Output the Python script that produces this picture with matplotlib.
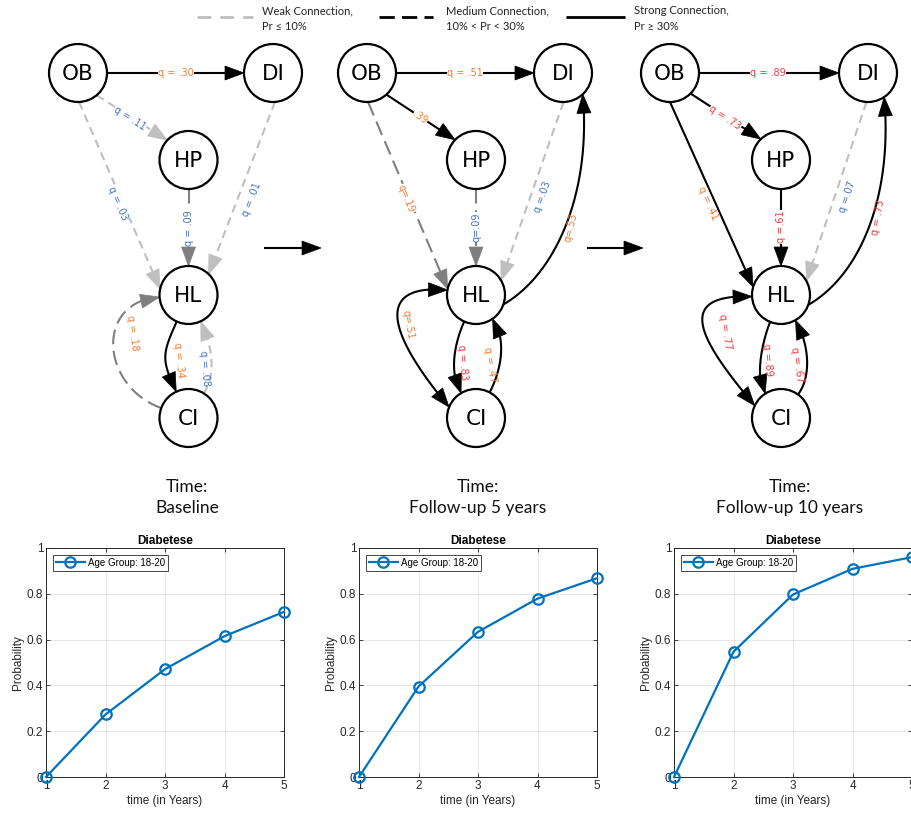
import numpy as np
import matplotlib
matplotlib.use('Agg')
import matplotlib.pyplot as plt
from matplotlib.patches import Circle, Polygon

# ---------------- data ----------------
node_names = ['OB', 'DI', 'HP', 'HL', 'CI']
time_titles = ['Time:\nBaseline', 'Time:\nFollow-up 5 years', 'Time:\nFollow-up 10 years']

# (source, target, q, label, strength)
edges_baseline = [
    ('OB', 'DI', 0.30, 'q = .30', 'strong'),
    ('OB', 'HP', 0.11, 'q = .11', 'weak'),
    ('OB', 'HL', 0.03, 'q = .03', 'weak'),
    ('HP', 'HL', 0.09, 'q = .09', 'medium'),
    ('DI', 'HL', 0.01, 'q = .01', 'weak'),
    ('HL', 'CI', 0.34, 'q = .34', 'strong'),
    ('CI', 'HL', 0.08, 'q = .08', 'weak'),
    ('CI', 'HL', 0.18, 'q = .18', 'medium'),
]
edges_5y = [
    ('OB', 'DI', 0.51, 'q = .51', 'strong'),
    ('OB', 'HP', 0.39, '.39', 'strong'),
    ('OB', 'HL', 0.19, 'q=.19', 'medium'),
    ('HP', 'HL', 0.09, 'q=.09', 'medium'),
    ('DI', 'HL', 0.03, 'q =.03', 'weak'),
    ('HL', 'DI', 0.53, 'q=.53', 'strong'),
    ('HL', 'CI', 0.51, 'q=.51', 'strong'),
    ('HL', 'CI', 0.83, 'q = .83', 'strong'),
    ('CI', 'HL', 0.47, 'q = .47', 'strong'),
]
edges_10y = [
    ('OB', 'DI', 0.89, 'q = .89', 'strong'),
    ('OB', 'HP', 0.73, 'q = .73', 'strong'),
    ('OB', 'HL', 0.41, 'q = .41', 'strong'),
    ('HP', 'HL', 0.61, 'q =.61', 'strong'),
    ('DI', 'HL', 0.07, 'q =.07', 'weak'),
    ('HL', 'DI', 0.73, 'q = .73', 'strong'),
    ('HL', 'CI', 0.77, 'q = .77', 'strong'),
    ('HL', 'CI', 0.89, 'q =.89', 'strong'),
    ('CI', 'HL', 0.67, 'q = .67', 'strong'),
]
legend_labels = ['Weak Connection,\nPr \u2264 10%', 'Medium Connection,\n10% < Pr < 30%',
                 'Strong Connection,\nPr \u2265 30%']

years = [1, 2, 3, 4, 5]
prob_baseline = [0.0, 0.273, 0.471, 0.615, 0.721]
prob_5y = [0.0, 0.395, 0.634, 0.779, 0.868]
prob_10y = [0.0, 0.547, 0.797, 0.909, 0.960]
series_label = 'Age Group: 18-20'
plot_title = 'Diabetese'

# ---------------- layout (pixels, y from top) ----------------
W, H = 911, 818
R = 29
centers = [
    {'OB': (78, 73), 'DI': (273, 73), 'HP': (188.5, 160), 'HL': (188.5, 295), 'CI': (188.5, 418)},
    {'OB': (367, 73), 'DI': (563, 73), 'HP': (476, 160), 'HL': (476, 295), 'CI': (476, 418)},
    {'OB': (670, 73), 'DI': (868, 73), 'HP': (781, 160), 'HL': (781, 295), 'CI': (781, 418)},
]
# (angA, angB, depDir, arrDir, k1, k2, both, lx, ly, rot, bg)
geoms = [
    [
        (0, 180, None, None, 0, 0, False, 176, 73, 0, True),
        (-50, 137, None, None, 0, 0, False, 130, 118, None, True),
        (-88, 168, None, None, 0, 0, False, 118, 203, None, True),
        (-90, 90, None, None, 0, 0, False, 188.5, 228, None, True),
        (-86, 46, None, None, 0, 0, False, 252, 200, None, False),
        (-114, 115, None, None, 36, 36, False, 179, 360, -84, False),
        (58, -65, None, None, 25, 25, False, 205, 368, -85, False),
        (160, 184, None, None, 65, 65, False, 132, 333, -82, False),
    ],
    [
        (0, 180, None, None, 0, 0, False, 465, 73, 0, True),
        (-48, 136, None, None, 0, 0, False, 420, 118, None, True),
        (-88, 168, None, None, 0, 0, False, 406, 199, None, True),
        (-90, 90, None, None, 0, 0, False, 476, 227, None, True),
        (-89, 30, None, None, 0, 0, False, 543, 197, None, False),
        (-19, -47, 30, 95, 60, 100, False, 571, 227, 77, False),
        (170, 158, 175, -50, 80, 85, True, 408, 325, -80, False),
        (-114, 121, None, None, 24, 24, False, 463, 362, -85, False),
        (62, -55, None, None, 25, 25, False, 490, 365, -80, False),
    ],
    [
        (0, 180, None, None, 0, 0, False, 768, 73, 0, True),
        (-45, 134, None, None, 0, 0, False, 725, 118, None, True),
        (-90, 164, None, None, 0, 0, False, 708, 203, None, True),
        (-90, 90, None, None, 0, 0, False, 781, 227, None, True),
        (-93, 29, None, None, 0, 0, False, 847, 197, None, False),
        (-20, -56, 30, 95, 60, 100, False, 878, 217, 80, False),
        (183, 155, 178, -50, 80, 85, True, 725, 332, -80, False),
        (-112, 123, None, None, 20, 20, False, 767, 360, -85, False),
        (54, -60, None, None, 25, 25, False, 797, 365, -80, False),
    ],
]
STYLE = {
    'weak': dict(color='#BFBFBF', dashes=(4.0, 2.6)),
    'medium': dict(color='#7F7F7F', dashes=(7.0, 3.2)),
    'strong': dict(color='black', dashes=None),
}
LW = 1.5
HEAD_L, HEAD_W = 19, 7


def qcolor(q):
    if q < 0.15:
        return '#4472C4'
    if q < 0.6:
        return '#ED7D31'
    return '#F03C3C'


def dvec(a):
    a = np.deg2rad(a)
    return np.array([np.cos(a), -np.sin(a)])


def bez(P0, P1, P2, P3, n=200):
    t = np.linspace(0, 1, n)[:, None]
    return ((1 - t) ** 3) * P0 + 3 * ((1 - t) ** 2) * t * P1 + 3 * (1 - t) * t ** 2 * P2 + t ** 3 * P3


def head(ax, pts, color, z):
    tip = pts[-1]
    d = np.linalg.norm(pts - tip, axis=1)
    idx = np.where(d >= HEAD_L)[0]
    base_pt = pts[idx[-1]] if len(idx) else pts[0]
    u = tip - base_pt
    u = u / np.linalg.norm(u)
    n = np.array([-u[1], u[0]])
    b = tip - HEAD_L * u
    ax.add_patch(Polygon([tip, b + HEAD_W * n, b - HEAD_W * n], closed=True,
                         fc=color, ec=color, lw=0.5, zorder=z))


def trim(pts, L):
    tip = pts[-1]
    d = np.linalg.norm(pts - tip, axis=1)
    idx = np.where(d >= L)[0]
    return pts[: idx[-1] + 1] if len(idx) else pts[:1]


fig = plt.figure(figsize=(W / 100, H / 100), dpi=100)
fig.patch.set_facecolor('white')
bg = fig.add_axes([0, 0, 1, 1])
bg.set_xlim(0, W)
bg.set_ylim(H, 0)
bg.axis('off')

all_edges = [edges_baseline, edges_5y, edges_10y]
for C, edges, gm in zip(centers, all_edges, geoms):
    for (src, dst, q, lab, strength), g in zip(edges, gm):
        angA, angB, dep, arr, k1, k2, both, lx, ly, rot, lbg = g
        ca, cb = np.array(C[src], float), np.array(C[dst], float)
        P0 = ca + R * dvec(angA)
        P3 = cb + R * dvec(angB)
        if k1 == 0 and k2 == 0:
            t = np.linspace(0, 1, 50)[:, None]
            pts = P0 + t * (P3 - P0)
        else:
            dA = dep if dep is not None else angA
            aB = arr if arr is not None else angB + 180
            P1 = P0 + k1 * dvec(dA)
            P2 = P3 - k2 * dvec(aB)
            pts = bez(P0, P1, P2, P3)
        st = STYLE[strength]
        body = trim(pts, HEAD_L * 0.7)
        if both:
            body = trim(body[::-1], HEAD_L * 0.7)[::-1]
        ln, = bg.plot(body[:, 0], body[:, 1], color=st['color'], lw=LW, zorder=2,
                      solid_capstyle='butt', dash_capstyle='butt')
        if st['dashes']:
            ln.set_dashes(st['dashes'])
        head(bg, pts, st['color'], 3)
        if both:
            head(bg, pts[::-1], st['color'], 3)
        if rot is None:
            v = P3 - P0
            rot = np.degrees(np.arctan2(-v[1], v[0]))
            if rot <= -90:
                rot += 180
            elif rot > 90:
                rot -= 180
        kw = {}
        if lbg:
            kw['bbox'] = dict(boxstyle='square,pad=0.05', fc='white', ec='none')
        bg.text(lx, ly, lab, fontsize=7, color=qcolor(q), rotation=rot,
                rotation_mode='anchor', ha='center', va='center', zorder=4,
                family='DejaVu Sans', **kw)
    for nm in node_names:
        x, y = C[nm]
        bg.add_patch(Circle((x, y), R, fc='white', ec='black', lw=1.6, zorder=5))
        bg.text(x, y + 1, nm, fontsize=15.5, ha='center', va='center', zorder=6,
                family='DejaVu Sans')

# transition arrows
for x0, x1 in [(265, 321), (588, 643)]:
    pts = np.array([[x0, 248.0], [x1, 248.0]])
    bg.plot([x0, x1 - HEAD_L * 0.7], [248, 248], color='black', lw=LW, zorder=2)
    head(bg, pts, 'black', 3)

# top legend
leg_lines = [(197, 253, '#BFBFBF', (5.0, 3.2)),
             (379, 433, 'black', (5.5, 2.6)),
             (566, 625, 'black', None)]
leg_text_x = [262, 446, 634]
for (x0, x1, col, ds), tx, lab in zip(leg_lines, leg_text_x, legend_labels):
    ln, = bg.plot([x0, x1], [17, 17], color=col, lw=2.0, solid_capstyle='butt',
                  dash_capstyle='butt')
    if ds:
        ln.set_dashes(ds)
    l1, l2 = lab.split('\n')
    bg.text(tx, 11, l1, fontsize=8, family='Lato', ha='left', va='center', color='#222222')
    bg.text(tx, 26, l2, fontsize=8, family=['Lato', 'DejaVu Sans'], ha='left', va='center',
            color='#222222')

# time titles
for cx, tt in zip([187, 478, 790], time_titles):
    l1, l2 = tt.split('\n')
    bg.text(cx, 487, l1, fontsize=12.5, family='Lato', ha='center', va='center', color='#111111')
    bg.text(cx, 508, l2, fontsize=12.5, family='Lato', ha='center', va='center', color='#111111')

# ---------------- bottom line plots ----------------
series = [prob_baseline, prob_5y, prob_10y]
lefts = [46, 359, 674]
axc = '#262626'
for left, vals in zip(lefts, series):
    ax = fig.add_axes([left / W, (H - 777) / H, 238 / W, 229 / H])
    ax.plot(years, vals, '-o', color='#0072BD', lw=1.6, ms=7.5, mfc='none', mew=1.6,
            label=series_label, clip_on=False, zorder=5)
    ax.set_xlim(1, 5)
    ax.set_ylim(0, 1)
    ax.set_xticks(years)
    ax.set_yticks([0, 0.2, 0.4, 0.6, 0.8, 1])
    ax.set_yticklabels(['0', '0.2', '0.4', '0.6', '0.8', '1'])
    ax.grid(True, color=axc, alpha=0.13, lw=0.6)
    ax.tick_params(direction='in', top=True, right=True, length=3, width=0.6,
                   labelsize=8.5, colors=axc, pad=2)
    for lab in ax.get_xticklabels() + ax.get_yticklabels():
        lab.set_family('Liberation Sans')
    for sp in ax.spines.values():
        sp.set_color(axc)
        sp.set_linewidth(0.7)
    ax.set_title(plot_title, fontsize=8.5, fontweight='bold', pad=3, family='Liberation Sans',
                 color='black')
    ax.set_xlabel('time (in Years)', fontsize=8.5, labelpad=2, family='Liberation Sans', color=axc)
    ax.set_ylabel('Probability', fontsize=8.5, labelpad=2, family='Liberation Sans', color=axc)
    leg = ax.legend(loc='upper left', prop={'family': 'Liberation Sans', 'size': 7},
                    handlelength=3.0, fancybox=False, borderpad=0.3, handletextpad=0.3,
                    borderaxespad=0.7, framealpha=1)
    leg.get_frame().set_edgecolor(axc)
    leg.get_frame().set_linewidth(0.6)

fig.savefig('out.png', dpi=100, facecolor='white')
